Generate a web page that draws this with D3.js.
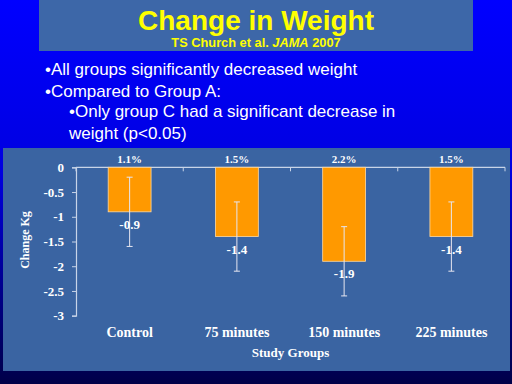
<!DOCTYPE html>
<html>
<head>
<meta charset="utf-8">
<script src="https://cdn.jsdelivr.net/npm/d3@7"></script>
<style>
  body { margin: 0; padding: 0; }
  svg { display: block; }
</style>
</head>
<body>
<div id="the_chart"></div>
<script>
// chart data
var groups = ["Control", "75 minutes", "150 minutes", "225 minutes"];
var changeKg = [-0.9, -1.4, -1.9, -1.4];
var errKg = [0.7, 0.7, 0.7, 0.7];
var pctLabels = ["1.1%", "1.5%", "2.2%", "1.5%"];
var yTicks = [0, -0.5, -1, -1.5, -2, -2.5, -3];
var bullets = [
    { text: "\u2022All groups significantly decreased weight", indent: 0 },
    { text: "\u2022Compared to Group A:", indent: 0 },
    { text: "\u2022Only group C had a significant decrease in", indent: 1 },
    { text: "weight (p<0.05)", indent: 1 }
];

var w = 512;
var h = 384;

var svg = d3.select("#the_chart")
    .append("svg")
    .attr("width", w)
    .attr("height", h);

// slide background gradient
var defs = svg.append("defs");
var grad = defs.append("linearGradient")
    .attr("id", "bg")
    .attr("x1", 0).attr("y1", 0)
    .attr("x2", 0).attr("y2", 1);
grad.append("stop").attr("offset", "0%").attr("stop-color", "#0000ff");
grad.append("stop").attr("offset", "45%").attr("stop-color", "#0000e0");
grad.append("stop").attr("offset", "100%").attr("stop-color", "#000048");

svg.append("rect")
    .attr("width", w)
    .attr("height", h)
    .attr("fill", "url(#bg)");

// title box
svg.append("rect")
    .attr("x", 39)
    .attr("y", 0)
    .attr("width", 434)
    .attr("height", 51)
    .attr("fill", "#3d67a8");

svg.append("text")
    .attr("x", 256)
    .attr("y", 30)
    .attr("text-anchor", "middle")
    .attr("font-family", "Liberation Sans, Arial, sans-serif")
    .attr("font-weight", "bold")
    .attr("font-size", 28)
    .attr("fill", "#ffff00")
    .text("Change in Weight");

var sub = svg.append("text")
    .attr("x", 256)
    .attr("y", 47)
    .attr("text-anchor", "middle")
    .attr("font-family", "Liberation Sans, Arial, sans-serif")
    .attr("font-weight", "bold")
    .attr("font-size", 12.8)
    .attr("fill", "#ffff00");
sub.append("tspan").text("TS Church et al. ");
sub.append("tspan").attr("font-style", "italic").text("JAMA");
sub.append("tspan").text(" 2007");

// bullet text
svg.selectAll(".bullet")
    .data(bullets)
    .enter()
    .append("text")
    .attr("class", "bullet")
    .attr("x", function (d) { return d.indent ? 69 : 45; })
    .attr("y", function (d, i) { return 75 + i * 22 - (i > 1 ? 2 : 0); })
    .attr("font-family", "Liberation Sans, Arial, sans-serif")
    .attr("font-size", 17)
    .attr("fill", "#ffffff")
    .text(function (d) { return d.text; });

// chart panel
svg.append("rect")
    .attr("x", 3)
    .attr("y", 148)
    .attr("width", 507)
    .attr("height", 223)
    .attr("fill", "#3a64a2");

var plotLeft = 76, plotRight = 505, plotTop = 167.3, plotBottom = 315.7;

var x = d3.scaleBand()
    .domain(groups)
    .range([plotLeft, plotRight])
    .paddingInner(0.6)
    .paddingOuter(0.3);

var xBand = d3.scaleBand()
    .domain(groups)
    .range([plotLeft, plotRight]);

var y = d3.scaleLinear()
    .domain([0, -3])
    .range([plotTop, plotBottom]);

var serif = "Liberation Serif, Times New Roman, serif";
var axisColor = "#c8d4e8";

// y axis
var yAxis = svg.append("g")
    .attr("transform", "translate(" + plotLeft + ",0)")
    .call(d3.axisLeft(y).tickValues(yTicks).tickSize(4).tickPadding(8)
        .tickFormat(function (d) { return d === 0 ? "0" : String(d); }));
yAxis.select(".domain").attr("stroke", axisColor).attr("stroke-width", 1.2);
yAxis.selectAll(".tick line").attr("stroke", axisColor);
yAxis.selectAll(".tick text")
    .attr("fill", "#ffffff")
    .attr("font-family", serif)
    .attr("font-weight", "bold")
    .attr("font-size", 13);

// x axis at zero line, ticks at category boundaries
svg.append("line")
    .attr("x1", plotLeft).attr("x2", plotRight)
    .attr("y1", y(0)).attr("y2", y(0))
    .attr("stroke", axisColor)
    .attr("stroke-width", 1.2);

var bounds = groups.map(function (g) { return xBand(g); }).concat([plotRight]);
svg.selectAll(".xtick")
    .data(bounds)
    .enter()
    .append("line")
    .attr("x1", function (d) { return d; })
    .attr("x2", function (d) { return d; })
    .attr("y1", y(0))
    .attr("y2", y(0) + 4)
    .attr("stroke", axisColor);

// bars
svg.selectAll(".bar")
    .data(changeKg)
    .enter()
    .append("rect")
    .attr("class", "bar")
    .attr("x", function (d, i) { return x(groups[i]); })
    .attr("y", y(0))
    .attr("width", x.bandwidth())
    .attr("height", function (d) { return y(d) - y(0); })
    .attr("fill", "#ff9900")
    .attr("stroke", "#ffd9a0")
    .attr("stroke-width", 0.8);

// error bars
var eb = svg.selectAll(".err")
    .data(changeKg)
    .enter()
    .append("g")
    .attr("class", "err")
    .attr("stroke", "#e6e6f0")
    .attr("stroke-width", 1);

eb.append("line")
    .attr("x1", function (d, i) { return x(groups[i]) + x.bandwidth() / 2; })
    .attr("x2", function (d, i) { return x(groups[i]) + x.bandwidth() / 2; })
    .attr("y1", function (d, i) { return y(d + errKg[i]); })
    .attr("y2", function (d, i) { return y(d - errKg[i]); });

eb.selectAll(".cap")
    .data(function (d, i) { return [[d + errKg[i], i], [d - errKg[i], i]]; })
    .enter()
    .append("line")
    .attr("x1", function (d) { return x(groups[d[1]]) + x.bandwidth() / 2 - 3; })
    .attr("x2", function (d) { return x(groups[d[1]]) + x.bandwidth() / 2 + 3; })
    .attr("y1", function (d) { return y(d[0]); })
    .attr("y2", function (d) { return y(d[0]); });

// value labels under bars
svg.selectAll(".val")
    .data(changeKg)
    .enter()
    .append("text")
    .attr("x", function (d, i) { return x(groups[i]) + x.bandwidth() / 2; })
    .attr("y", function (d) { return y(d) + 17; })
    .attr("text-anchor", "middle")
    .attr("font-family", serif)
    .attr("font-weight", "bold")
    .attr("font-size", 13)
    .attr("fill", "#ffffff")
    .text(function (d) { return d.toFixed(1); });

// percentage labels above zero line
svg.selectAll(".pct")
    .data(pctLabels)
    .enter()
    .append("text")
    .attr("x", function (d, i) { return x(groups[i]) + x.bandwidth() / 2; })
    .attr("y", y(0) - 4)
    .attr("text-anchor", "middle")
    .attr("font-family", serif)
    .attr("font-weight", "bold")
    .attr("font-size", 11)
    .attr("fill", "#ffffff")
    .text(function (d) { return d; });

// category labels
svg.selectAll(".cat")
    .data(groups)
    .enter()
    .append("text")
    .attr("x", function (d) { return x(d) + x.bandwidth() / 2; })
    .attr("y", 337)
    .attr("text-anchor", "middle")
    .attr("font-family", serif)
    .attr("font-weight", "bold")
    .attr("font-size", 14)
    .attr("fill", "#ffffff")
    .text(function (d) { return d; });

// axis titles
svg.append("text")
    .attr("x", (plotLeft + plotRight) / 2)
    .attr("y", 357)
    .attr("text-anchor", "middle")
    .attr("font-family", serif)
    .attr("font-weight", "bold")
    .attr("font-size", 13)
    .attr("fill", "#ffffff")
    .text("Study Groups");

svg.append("text")
    .attr("transform", "translate(29,240) rotate(-90)")
    .attr("text-anchor", "middle")
    .attr("font-family", serif)
    .attr("font-weight", "bold")
    .attr("font-size", 12)
    .attr("fill", "#ffffff")
    .text("Change Kg");
</script>
</body>
</html>
